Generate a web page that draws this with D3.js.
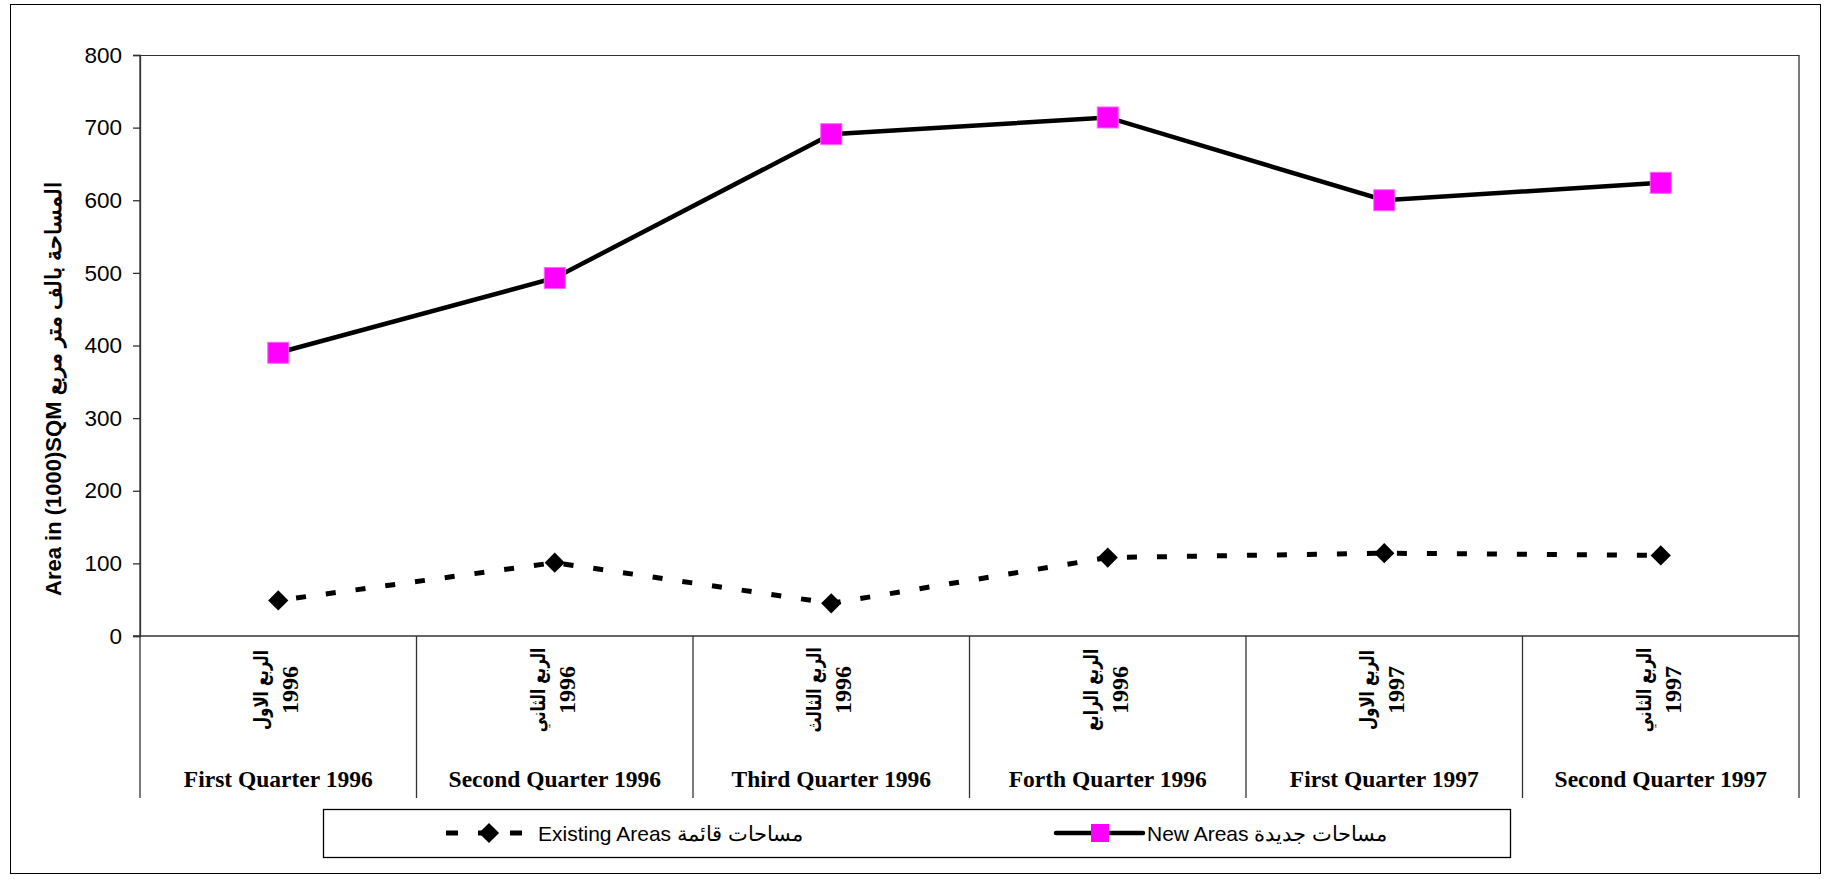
<!DOCTYPE html>
<html>
<head>
<meta charset="utf-8">
<script src="https://cdn.jsdelivr.net/npm/d3@7"></script>
<style>
  html, body { margin: 0; padding: 0; background: #fff; }
  svg { display: block; }
</style>
</head>
<body>
<svg id="chart" width="1827" height="879"></svg>
<script>
// ---- data ----
const categoriesEn = ["First Quarter 1996", "Second Quarter 1996", "Third Quarter 1996", "Forth Quarter 1996", "First Quarter 1997", "Second Quarter 1997"];
const categoriesAr = ["الربع الاول", "الربع الثاني", "الربع الثالث", "الربع الرابع", "الربع الاول", "الربع الثاني"];
const categoryYears = ["1996", "1996", "1996", "1996", "1997", "1997"];
const newAreas = [390, 493, 691, 714, 600, 624];
const existingAreas = [49, 101, 45, 108, 114, 111];
const yTicks = [0, 100, 200, 300, 400, 500, 600, 700, 800];
const yTitle = "Area in (1000)SQM المساحة بالف متر مربع";
const legendExisting = "Existing Areas مساحات  قائمة";
const legendNew = "New Areas مساحات  جديدة";

// ---- layout ----
const svg = d3.select("#chart");
const plotL = 140, plotR = 1799, plotT = 55, plotB = 636, catBottom = 798;
const axisColor = "#333";

const x = d3.scaleBand().domain(d3.range(categoriesEn.length)).range([plotL, plotR]).padding(0);
const y = d3.scaleLinear().domain([0, 800]).range([plotB, plotT]);

// outer border
svg.append("rect").attr("x", 10.5).attr("y", 4.5).attr("width", 1810).attr("height", 869)
  .attr("fill", "none").attr("stroke", "#000").attr("stroke-width", 1);

// plot frame top
svg.append("line").attr("x1", plotL).attr("x2", plotR).attr("y1", plotT + 0.5).attr("y2", plotT + 0.5)
  .attr("stroke", axisColor).attr("stroke-width", 1);

// y axis
const yAxis = d3.axisLeft(y).tickValues(yTicks).tickSize(7).tickPadding(11).tickFormat(d3.format("d"));
const gy = svg.append("g").attr("transform", `translate(${plotL},0)`).call(yAxis);
gy.select(".domain").attr("stroke", axisColor).attr("stroke-width", 1.3);
gy.selectAll(".tick line").attr("stroke", axisColor).attr("stroke-width", 1.3);
gy.selectAll(".tick text").attr("font-family", "Liberation Sans, Arial, sans-serif")
  .attr("font-size", 22.5).attr("fill", "#000");

// x zero line extending to tick
svg.append("line").attr("x1", plotL - 7).attr("x2", plotR).attr("y1", y(0)).attr("y2", y(0))
  .attr("stroke", axisColor).attr("stroke-width", 1.3);

// category dividers (all band boundaries)
const bounds = d3.range(categoriesEn.length + 1).map(i => i < categoriesEn.length ? x(i) : x(categoriesEn.length - 1) + x.bandwidth());
svg.selectAll("line.div").data(bounds).join("line").attr("class", "div")
  .attr("x1", d => d).attr("x2", d => d)
  .attr("y1", (d, i) => (i === 0 || i === bounds.length - 1) ? plotT : plotB)
  .attr("y2", catBottom)
  .attr("stroke", axisColor).attr("stroke-width", 1.3);

// category labels: rotated Arabic + year
const cx = i => x(i) + x.bandwidth() / 2;
categoriesAr.forEach((ar, i) => {
  svg.append("text").attr("transform", `translate(${cx(i) - 10},690) rotate(-90) scale(0.75,1)`)
    .attr("text-anchor", "middle")
    .attr("font-family", "DejaVu Sans, sans-serif")
    .attr("font-weight", "bold").attr("font-size", 20).attr("fill", "#000").text(ar);
  svg.append("text").attr("transform", `translate(${cx(i) + 20},690) rotate(-90)`)
    .attr("text-anchor", "middle")
    .attr("font-family", "Liberation Serif, Times New Roman, serif")
    .attr("font-weight", "bold").attr("font-size", 24).attr("fill", "#000").text(categoryYears[i]);
});
svg.selectAll("text.en").data(categoriesEn).join("text").attr("class", "en")
  .attr("x", (d, i) => cx(i)).attr("y", 787).attr("text-anchor", "middle")
  .attr("font-family", "Liberation Serif, Times New Roman, serif")
  .attr("font-weight", "bold").attr("font-size", 23.5).attr("fill", "#000")
  .text(d => d);

// y title
svg.append("text").attr("transform", "translate(61,389) rotate(-90)")
  .attr("text-anchor", "middle").attr("font-family", "Liberation Sans, Arial, sans-serif")
  .attr("font-weight", "bold").attr("font-size", 22).attr("fill", "#000").text(yTitle);

// lines
const idx = d3.range(categoriesEn.length);
const lineNew = d3.line().x(i => cx(i)).y(i => y(newAreas[i]));
const lineEx = d3.line().x(i => cx(i)).y(i => y(existingAreas[i]));

svg.append("path").attr("d", lineEx(idx)).attr("fill", "none").attr("stroke", "#000")
  .attr("stroke-width", 5).attr("stroke-dasharray", "10,20").attr("stroke-dashoffset", -18);
svg.append("path").attr("d", lineNew(idx)).attr("fill", "none").attr("stroke", "#000")
  .attr("stroke-width", 4.5);

// markers
const diamond = d3.symbol().type(d3.symbolDiamond2).size(260);
svg.selectAll("path.dm").data(idx).join("path").attr("class", "dm")
  .attr("d", diamond).attr("transform", i => `translate(${cx(i)},${y(existingAreas[i])})`)
  .attr("fill", "#000");
const sq = 21;
svg.selectAll("rect.sq").data(idx).join("rect").attr("class", "sq")
  .attr("x", i => cx(i) - sq / 2).attr("y", i => y(newAreas[i]) - sq / 2)
  .attr("width", sq).attr("height", sq).attr("fill", "#ff00ff")
  .attr("stroke", "#ff66ff").attr("stroke-width", 1);

// legend
svg.append("rect").attr("x", 323.5).attr("y", 809.5).attr("width", 1187).attr("height", 48)
  .attr("fill", "#fff").attr("stroke", "#000").attr("stroke-width", 1.3);
const ly = 833;
svg.append("line").attr("x1", 446).attr("x2", 522).attr("y1", ly).attr("y2", ly)
  .attr("stroke", "#000").attr("stroke-width", 5).attr("stroke-dasharray", "12,20");
svg.append("path").attr("d", diamond).attr("transform", `translate(489,${ly})`).attr("fill", "#000");
svg.append("text").attr("x", 538).attr("y", ly + 8).attr("font-family", "Liberation Sans, Arial, sans-serif")
  .attr("font-size", 21).attr("fill", "#000").text(legendExisting);

svg.append("line").attr("x1", 1056).attr("x2", 1143).attr("y1", ly).attr("y2", ly)
  .attr("stroke", "#000").attr("stroke-width", 4.5).attr("stroke-linecap", "round");
svg.append("rect").attr("x", 1091).attr("y", ly - 9).attr("width", 18).attr("height", 18)
  .attr("fill", "#ff00ff");
svg.append("text").attr("x", 1147).attr("y", ly + 8).attr("font-family", "Liberation Sans, Arial, sans-serif")
  .attr("font-size", 21).attr("fill", "#000").text(legendNew);
</script>
</body>
</html>
